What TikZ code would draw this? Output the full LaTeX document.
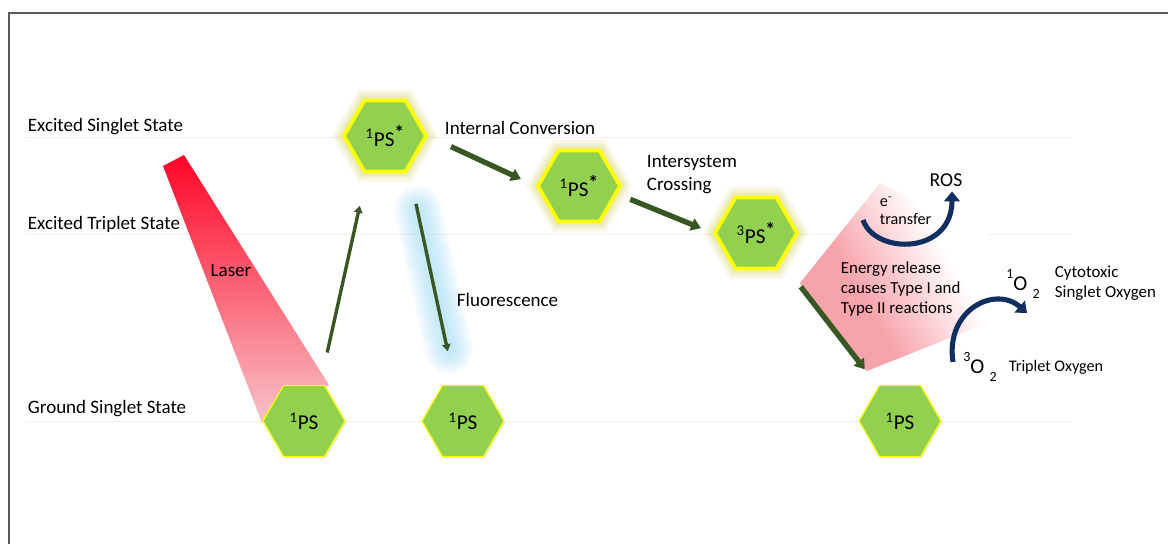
\documentclass[tikz,border=0pt]{standalone}
\usepackage{fontspec}
\setmainfont{Carlito}
\usetikzlibrary{arrows.meta, shapes.geometric, shadows, positioning}

\definecolor{hexgreen}{HTML}{92D050}
\definecolor{hexyellow}{HTML}{FFFF00}
\definecolor{glowyellow}{HTML}{D9D77C}
\definecolor{arrowgreen}{HTML}{385723}
\definecolor{oxnavy}{HTML}{112E61}
\definecolor{levelline}{HTML}{F8ECE6}
\definecolor{laserred}{HTML}{FF0526}
\definecolor{laserpink}{HTML}{F7C4C9}
\definecolor{wedgepink}{HTML}{F7A3AB}
\definecolor{fluoblue}{HTML}{8FD4F2}
\definecolor{framegray}{HTML}{5A5A5A}

\pgfdeclareverticalshading{wedgefade}{100bp}{color(0bp)=(wedgepink); color(38bp)=(wedgepink);
  color(62bp)=(white); color(100bp)=(white)}

\tikzset{
  hexa/.style={regular polygon, regular polygon sides=6, minimum size=2.05cm,
    inner sep=0pt, fill=hexgreen, draw=hexyellow,
    font=\fontsize{15}{17}\selectfont},
  groundhex/.style={hexa, line width=0.8pt,
    drop shadow={opacity=0.2, shadow xshift=0.8pt, shadow yshift=-1.2pt}},
  excitedhex/.style={hexa, line width=2.6pt,
    preaction={draw=glowyellow, line width=15pt, opacity=0.15},
    preaction={draw=glowyellow, line width=11pt, opacity=0.2},
    preaction={draw=glowyellow, line width=7pt, opacity=0.3}},
  statelabel/.style={anchor=west, font=\fontsize{13.5}{16.3}\selectfont},
  smalllabel/.style={font=\fontsize{12}{14.4}\selectfont},
  transarrow/.style={arrowgreen, line width=3.8pt, -{Triangle[length=7pt, width=9pt]}},
  thinarrow/.style={arrowgreen, line width=2.4pt, -{Triangle[length=5pt, width=6pt]}},
  curvearrow/.style={oxnavy, line width=3.6pt, -{Triangle[length=7pt, width=11pt]}}
}

\newcommand{\starsup}{\raisebox{0.3em}{\fontsize{14}{14}\selectfont\bfseries *}}

\begin{document}
\begin{tikzpicture}[x=0.025cm, y=-0.025cm]

  \useasboundingbox (0,0) rectangle (1168,544);

  % frame
  \draw[framegray, line width=1.1pt] (9,544) -- (9,13) -- (1168,13);

  % energy levels
  \draw[levelline, line width=0.7pt] (25,137) -- (1072,137);
  \draw[levelline, line width=0.7pt] (25,234) -- (1072,234);
  \draw[levelline, line width=0.7pt] (25,421) -- (1072,421);

  \node[statelabel] (singletlbl) at (23,127) {Excited Singlet State};
  \node[statelabel] (tripletlbl) at (23,224) {Excited Triplet State};
  \node[statelabel] (groundlbl) at (23,409) {Ground Singlet State};

  % laser beam
  \shade[top color=laserred, bottom color=laserpink]
    (163,166) -- (184,155) -- (329,385) -- (262,423) -- cycle;
  \node[statelabel, anchor=center] (laserlbl) at (231,270) {Laser};

  % energy release wedge
  \shade[shading=wedgefade, shading angle=-60]
    (800,283) -- (880,183) -- (1010,245) -- (1000,318) -- (867,371) -- cycle;

  % fluorescence glow
  \foreach \w in {34,30,...,6}
    \draw[fluoblue, line width=\w pt, line cap=round, opacity=0.09] (418,210) -- (449,350);

  % photosensitiser states
  \node[groundhex] (g1) at (304,421) {\textsuperscript{1}PS};
  \node[groundhex] (g2) at (463,421) {\textsuperscript{1}PS};
  \node[groundhex] (g3) at (900,421) {\textsuperscript{1}PS};
  \node[excitedhex] (e1) at (385,136) {\textsuperscript{1}PS\starsup};
  \node[excitedhex] (e2) at (579,186) {\textsuperscript{1}PS\starsup};
  \node[excitedhex] (t1) at (756,233) {\textsuperscript{3}PS\starsup};

  % transitions
  \draw[thinarrow, shorten <=0.83cm, shorten >=0.83cm]
    ([xshift=0.4cm]g1.north) -- ([xshift=-0.45cm]e1.south);
  \draw[thinarrow, shorten <=0.78cm, shorten >=0.86cm]
    ([xshift=0.61cm]e1.south) -- ([xshift=-0.2cm]g2.north);
  \draw[transarrow, shorten <=0.63cm, shorten >=0.41cm] (e1.east) -- (e2.west);
  \draw[transarrow, shorten <=0.22cm, shorten >=0.32cm]
    ([yshift=-0.25cm]e2.east) -- (t1.west);
  \draw[transarrow, shorten <=0.52cm, shorten >=0.49cm]
    ([xshift=0.8cm]t1.south) -- ([xshift=-0.58cm]g3.north);

  \node[statelabel] (iclbl) at (440,128) {Internal Conversion};
  \node[statelabel, align=left] (isclbl) at (642,175) {Intersystem\\Crossing};
  \node[statelabel] (fluolbl) at (452,300) {Fluorescence};

  % reactions
  \node[smalllabel, anchor=west, align=left] (energylbl) at (836,289)
    {Energy release\\causes Type I and\\Type II reactions};
  \node[font=\fontsize{14}{16}\selectfont] (ros) at (946,180) {ROS};
  \node[anchor=west, align=left, font=\fontsize{11.5}{12.8}\selectfont] (etrans) at (875,211)
    {e\textsuperscript{-}\\transfer};
  \coordinate (etail) at (863,220);
  \draw[curvearrow] (etail) .. controls (875,255) and (952,255) .. ([xshift=0.15cm]ros.south);

  \node[font=\fontsize{15}{17}\selectfont] (singo2) at (1023,284)
    {\raisebox{0.55em}{\fontsize{10}{10}\selectfont 1}O\hspace{0.25em}\raisebox{-0.4em}{\fontsize{10}{10}\selectfont 2}};
  \node[smalllabel, anchor=west, align=left] (singlbl) at (1050,283) {Cytotoxic\\Singlet Oxygen};
  \node[font=\fontsize{15}{17}\selectfont] (tripo2) at (980,367)
    {\raisebox{0.55em}{\fontsize{10}{10}\selectfont 3}O\hspace{0.25em}\raisebox{-0.4em}{\fontsize{10}{10}\selectfont 2}};
  \node[anchor=west, font=\fontsize{11.5}{13}\selectfont] (triplbl) at (1004,367) {Triplet Oxygen};
  \coordinate (o2tail) at (953,362);
  \coordinate (o2head) at (1027,313);
  \draw[curvearrow] (o2tail) .. controls (945,310) and (995,285) .. (o2head);

\end{tikzpicture}
\end{document}
